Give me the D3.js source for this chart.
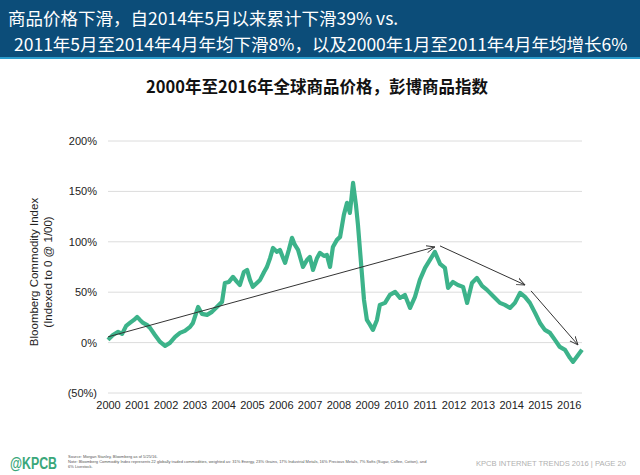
<!DOCTYPE html>
<html><head><meta charset="utf-8">
<script src="https://cdn.jsdelivr.net/npm/d3@7"></script>
<style>
html,body{margin:0;padding:0;background:#fff;}
svg{display:block;}
</style></head>
<body>
<script>
// ---- data ----
const years = [2000,2000.17,2000.35,2000.49,2000.63,2000.76,2000.90,2001.01,2001.11,2001.22,2001.35,2001.46,2001.63,2001.81,2001.98,2002.15,2002.33,2002.50,2002.67,2002.85,2002.95,2003.13,2003.26,2003.44,2003.61,2003.78,2003.96,2004.06,2004.20,2004.34,2004.48,2004.58,2004.72,2004.83,2004.93,2005.03,2005.17,2005.28,2005.42,2005.52,2005.63,2005.73,2005.87,2005.97,2006.08,2006.15,2006.28,2006.39,2006.49,2006.60,2006.70,2006.77,2006.91,2007.01,2007.12,2007.26,2007.36,2007.50,2007.60,2007.71,2007.81,2007.95,2008.06,2008.19,2008.30,2008.40,2008.51,2008.61,2008.68,2008.75,2008.82,2008.89,2008.99,2009.10,2009.20,2009.34,2009.44,2009.62,2009.79,2009.97,2010.14,2010.31,2010.49,2010.66,2010.83,2011.01,2011.18,2011.35,2011.53,2011.70,2011.81,2011.98,2012.15,2012.33,2012.47,2012.64,2012.81,2012.99,2013.16,2013.37,2013.61,2013.78,2013.96,2014.13,2014.31,2014.48,2014.65,2014.83,2015.00,2015.17,2015.35,2015.52,2015.69,2015.87,2016.04,2016.15,2016.28,2016.46];
const indexValues = [2.7,7.6,10.6,8.6,16.6,19.5,22.5,25.5,22.5,19.5,17.6,14.6,7.6,0.7,-3.3,-0.3,5.7,9.6,11.6,15.6,19.5,35.4,28.5,27.5,30.5,35.4,40.4,59.2,60.2,65.2,60.2,57.2,70.1,72.1,62.2,55.3,59.2,62.2,70.1,75.1,84.0,93.9,90.0,92.0,84.0,79.1,92.0,103.9,96.9,92.0,82.0,75.1,82.0,85.0,72.1,84.0,89.0,86.0,87.0,75.1,94.9,101.9,104.9,126.7,138.6,128.7,158.4,136.6,116.8,92.0,67.2,42.3,22.5,17.6,12.6,22.5,37.4,39.4,47.3,50.3,44.3,47.3,34.4,45.3,62.2,74.1,82.0,90.0,78.1,74.1,54.3,60.2,57.2,55.3,39.4,59.2,64.2,56.2,52.3,46.3,39.4,37.4,34.4,39.4,49.3,45.3,39.4,29.5,19.5,12.6,9.6,2.7,-4.3,-7.2,-15.1,-19.1,-14.1,-7.2];
const tickYears = [2000,2001,2002,2003,2004,2005,2006,2007,2008,2009,2010,2011,2012,2013,2014,2015,2016];
const yTicks = [-50,0,50,100,150,200];
// trend arrows
const arrowStartYears = [2000.0, 2011.53, 2014.69];
const arrowStartValues = [5.7, 95.9, 51.3];
const arrowEndYears = [2011.35, 2014.48, 2016.32];
const arrowEndValues = [94.9, 57.2, -2.3];

const headline1 = "商品价格下滑，自2014年5月以来累计下滑39% vs.";
const headline2 = "2011年5月至2014年4月年均下滑8%，以及2000年1月至2011年4月年均增长6%";
const chartTitle = "2000年至2016年全球商品价格，彭博商品指数";
const yTitle1 = "Bloomberg Commodity Index";
const yTitle2 = "(Indexed to 0 @ 1/00)";
const footnotes = [
  "Source: Morgan Stanley, Bloomberg as of 5/25/16.",
  "Note: Bloomberg Commodity Index represents 22 globally traded commodities, weighted as: 31% Energy, 23% Grains, 17% Industrial Metals, 16% Precious Metals, 7% Softs (Sugar, Coffee, Cotton), and",
  "6% Livestock."
];

const W = 640, H = 475;
const svg = d3.select("body").append("svg").attr("width", W).attr("height", H);

// header band
svg.append("rect").attr("x",0).attr("y",0).attr("width",W).attr("height",58).attr("fill","#0c4d79");
svg.append("rect").attr("x",0).attr("y",57).attr("width",W).attr("height",2).attr("fill","#2b9ccc");
const hdrFont = "'Noto Sans CJK SC', 'Noto Sans', sans-serif";
svg.append("text").attr("x",8).attr("y",25).attr("fill","#fff").attr("font-family",hdrFont).attr("font-size",17.5).text(headline1);
svg.append("text").attr("x",14).attr("y",51).attr("fill","#fff").attr("font-family",hdrFont).attr("font-size",17.5).text(headline2);

// chart title
svg.append("text").attr("x",317).attr("y",93).attr("text-anchor","middle").attr("fill","#111")
  .attr("font-family",hdrFont).attr("font-weight","bold").attr("font-size",16.5).text(chartTitle);

// scales
const x = d3.scaleLinear().domain([2000, 2016.46]).range([108, 582]);
const y = d3.scaleLinear().domain([-50, 200]).range([393, 141]);

const axFont = "'Liberation Sans', Arial, sans-serif";
// gridlines
svg.append("g").selectAll("line").data(yTicks).join("line")
  .attr("x1",108).attr("x2",582).attr("y1",d=>y(d)).attr("y2",d=>y(d))
  .attr("stroke","#dcdcdc").attr("stroke-width",1);

// y axis labels
const yAxis = d3.axisLeft(y).tickValues(yTicks).tickSize(0).tickPadding(0)
  .tickFormat(d => d < 0 ? "(" + Math.abs(d) + "%)" : d + "%");
const gy = svg.append("g").attr("transform","translate(97,0)").call(yAxis);
gy.select(".domain").remove();
gy.selectAll("text").attr("font-family",axFont).attr("font-size",11).attr("fill","#222");

// x axis labels
const xAxis = d3.axisBottom(x).tickValues(tickYears).tickSize(0).tickPadding(0).tickFormat(d3.format("d"));
const gx = svg.append("g").attr("transform","translate(0,401)").call(xAxis);
gx.select(".domain").remove();
gx.selectAll("text").attr("font-family",axFont).attr("font-size",11).attr("fill","#222");

// y title
const yt = svg.append("g").attr("transform","translate(0,272) rotate(-90)");
yt.append("text").attr("x",0).attr("y",38).attr("text-anchor","middle").attr("font-family",axFont)
  .attr("font-size",11.5).attr("fill","#222").text(yTitle1);
yt.append("text").attr("x",0).attr("y",52).attr("text-anchor","middle").attr("font-family",axFont)
  .attr("font-size",11.5).attr("fill","#222").text(yTitle2);

// series line
const line = d3.line().x((d,i)=>x(years[i])).y(d=>y(d)).curve(d3.curveLinear);
svg.append("path").datum(indexValues).attr("d",line).attr("fill","none")
  .attr("stroke","#3cb38a").attr("stroke-width",4.2).attr("stroke-linejoin","round");

// arrows
svg.append("defs").append("marker").attr("id","arr").attr("viewBox","0 0 10 10")
  .attr("refX",9.5).attr("refY",5).attr("markerWidth",9).attr("markerHeight",9)
  .attr("orient","auto").attr("markerUnits","userSpaceOnUse")
  .append("path").attr("d","M0,1 L9.5,5 L0,9").attr("fill","none").attr("stroke","#333").attr("stroke-width",1);
arrowStartYears.forEach((sy,i)=>{
  svg.append("line").attr("x1",x(sy)).attr("y1",y(arrowStartValues[i]))
    .attr("x2",x(arrowEndYears[i])).attr("y2",y(arrowEndValues[i]))
    .attr("stroke","#333").attr("stroke-width",1).attr("marker-end","url(#arr)");
});

// footer
svg.append("text").attr("transform","translate(10,469) scale(1,1.2)").attr("fill","#3aa77a")
  .attr("font-family","'Liberation Sans', Arial, sans-serif").attr("font-weight","bold")
  .attr("font-size",13.5).attr("textLength",47).attr("lengthAdjust","spacingAndGlyphs").text("@KPCB");
footnotes.forEach((t,i)=>{
  svg.append("text").attr("x",68).attr("y",458 + i*5).attr("font-family",axFont)
    .attr("font-size",4).attr("fill","#555").text(t);
});
svg.append("text").attr("x",626).attr("y",466).attr("text-anchor","end").attr("fill","#b0b0b0")
  .attr("font-family",axFont).attr("font-size",7.6).text("KPCB INTERNET TRENDS 2016  |  PAGE 20");
</script>
</body></html>
